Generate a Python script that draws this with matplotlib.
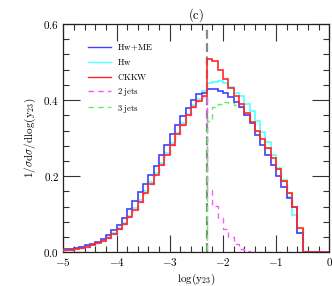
import numpy as np
import matplotlib
matplotlib.use("Agg")
import matplotlib.pyplot as plt
from matplotlib.ticker import MultipleLocator
from matplotlib.lines import Line2D

plt.rcParams['mathtext.fontset'] = 'cm'
plt.rcParams['font.family'] = ['DejaVu Serif']

# bin edges in log(y23)
bin_edges = np.round(np.arange(-5.0, 0.0001, 0.1), 2)

hw_me = [0.008, 0.010, 0.012, 0.015, 0.018, 0.022, 0.028, 0.035, 0.045, 0.058,
         0.073, 0.090, 0.113, 0.136, 0.158, 0.180, 0.202, 0.227, 0.256, 0.283,
         0.310, 0.334, 0.358, 0.380, 0.400, 0.415, 0.420, 0.428, 0.430, 0.425,
         0.419, 0.408, 0.395, 0.381, 0.360, 0.339, 0.308, 0.282, 0.255, 0.229,
         0.200, 0.172, 0.142, 0.120, 0.052, 0.0, 0.0, 0.0, 0.0, 0.0]
hw = [0.006, 0.008, 0.010, 0.013, 0.016, 0.020, 0.025, 0.031, 0.039, 0.050,
      0.063, 0.078, 0.096, 0.116, 0.137, 0.160, 0.184, 0.208, 0.234, 0.261,
      0.288, 0.314, 0.339, 0.364, 0.386, 0.404, 0.425, 0.444, 0.447, 0.449,
      0.446, 0.435, 0.419, 0.410, 0.390, 0.372, 0.346, 0.317, 0.290, 0.255,
      0.222, 0.190, 0.146, 0.098, 0.050, 0.0, 0.0, 0.0, 0.0, 0.0]
ckkw = [0.005, 0.007, 0.009, 0.012, 0.015, 0.019, 0.024, 0.030, 0.037, 0.047,
        0.060, 0.074, 0.092, 0.112, 0.132, 0.155, 0.180, 0.203, 0.230, 0.256,
        0.283, 0.310, 0.335, 0.360, 0.382, 0.398, 0.412, 0.509, 0.503, 0.480,
        0.455, 0.432, 0.410, 0.390, 0.365, 0.343, 0.319, 0.299, 0.273, 0.247,
        0.218, 0.188, 0.155, 0.120, 0.063, 0.0, 0.0, 0.0, 0.0, 0.0]
two_jets = [0.005, 0.007, 0.009, 0.012, 0.015, 0.019, 0.024, 0.030, 0.037, 0.047,
            0.060, 0.074, 0.092, 0.112, 0.132, 0.155, 0.180, 0.203, 0.230, 0.256,
            0.283, 0.310, 0.335, 0.360, 0.382, 0.398, 0.412, 0.163, 0.121, 0.089,
            0.060, 0.039, 0.022, 0.009, 0.003, 0.001, 0.0, 0.0, 0.0, 0.0,
            0.0, 0.0, 0.0, 0.0, 0.0, 0.0, 0.0, 0.0, 0.0, 0.0]
three_jets = [0.0, 0.0, 0.0, 0.0, 0.0, 0.0, 0.0, 0.0, 0.0, 0.0,
              0.0, 0.0, 0.0, 0.0, 0.0, 0.0, 0.0, 0.0, 0.0, 0.0,
              0.0, 0.0, 0.0, 0.0, 0.0, 0.0, 0.0, 0.346, 0.382, 0.391,
              0.395, 0.393, 0.388, 0.381, 0.362, 0.342, 0.319, 0.299, 0.273, 0.247,
              0.218, 0.188, 0.155, 0.120, 0.063, 0.0, 0.0, 0.0, 0.0, 0.0]
y_cut = -2.3

x_ticks = [-5, -4, -3, -2, -1, 0]
x_tick_labels = [r'$-5$', r'$-4$', r'$-3$', r'$-2$', r'$-1$', r'$0$']
y_ticks = [0.0, 0.2, 0.4, 0.6]
y_tick_labels = [r'$0.0$', r'$0.2$', r'$0.4$', r'$0.6$']

fig = plt.figure(figsize=(3.32, 2.86), dpi=100)
ax = fig.add_axes([0.1907, 0.1178, 0.8012, 0.7982])

def stairs(vals, **kw):
    return ax.stairs(vals, bin_edges, **kw)

lw = 1.2
stairs(hw, color='#55ffff', lw=lw, zorder=3)
stairs(hw_me, color='#4040ff', lw=lw, zorder=4)
stairs(ckkw, color='#ff2828', lw=lw, zorder=5)
stairs(two_jets, color='#ff55ff', lw=1.0, ls=(0, (4, 3)), zorder=2)
stairs(three_jets, color='#66ee66', lw=1.0, ls=(0, (4, 3)), zorder=2)
ax.axvline(y_cut, color='#888888', lw=1.6, ls=(0, (4, 2)), zorder=1)

hl = [Line2D([], [], color='#4040ff', lw=1.0),
      Line2D([], [], color='#55ffff', lw=1.0),
      Line2D([], [], color='#ff2828', lw=1.0),
      Line2D([], [], color='#ff55ff', lw=1.0, ls=(0, (4, 3))),
      Line2D([], [], color='#66ee66', lw=1.0, ls=(0, (4, 3)))]
labels = [r'$\mathrm{Hw\!+\!ME}$', r'$\mathrm{Hw}$', r'$\mathrm{CKKW}$',
          r'$\mathrm{2\ jets}$', r'$\mathrm{3\ jets}$']
ax.legend(hl, labels, loc='upper left', bbox_to_anchor=(0.07, 0.945),
          frameon=False, fontsize=6.3, handlelength=2.6, handletextpad=0.7,
          labelspacing=0.5, borderpad=0.2)

ax.set_xlim(-5, 0)
ax.set_ylim(0, 0.6)
ax.set_xticks(x_ticks)
ax.set_xticklabels(x_tick_labels)
ax.set_yticks(y_ticks)
ax.set_yticklabels(y_tick_labels)
ax.xaxis.set_minor_locator(MultipleLocator(0.2))
ax.yaxis.set_minor_locator(MultipleLocator(0.04))
ax.tick_params(which='both', direction='in', top=True, right=True, labelsize=8,
               color='#333333', width=0.8)
ax.tick_params(which='major', length=12, pad=3)
ax.tick_params(which='minor', length=4.5)
for s in ax.spines.values():
    s.set_linewidth(0.9)
    s.set_color('#222222')

ax.set_xlabel(r'$\mathrm{log(y_{23})}$', fontsize=8, labelpad=2)
ax.set_ylabel(r'$\mathrm{1/}\sigma\mathrm{d}\sigma\mathrm{/dlog(y_{23})}$', fontsize=8, labelpad=4)
ax.set_title(r'$\mathrm{(c)}$', fontsize=9, pad=4)

fig.savefig('out.png', dpi=100)
